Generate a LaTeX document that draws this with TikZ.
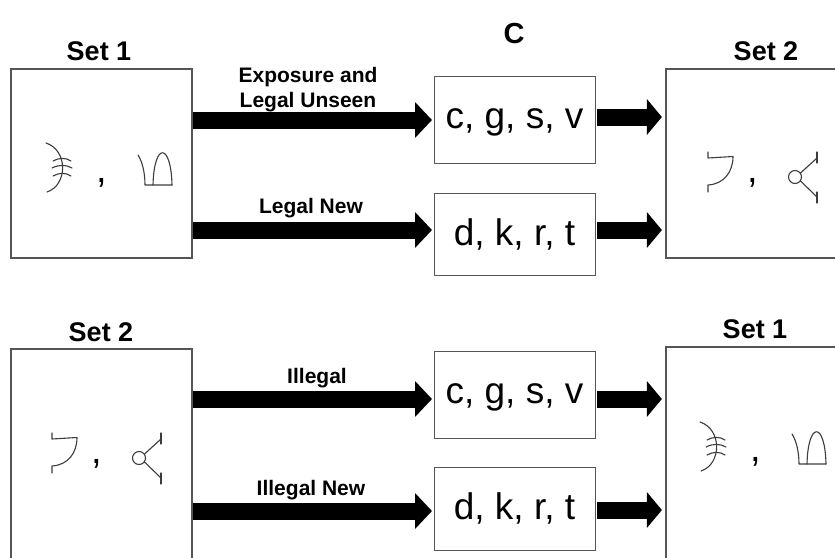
\documentclass[tikz,border=0pt]{standalone}
\usepackage{fontspec}
\setmainfont{Liberation Sans}
\usetikzlibrary{arrows.meta}
\definecolor{boxline}{HTML}{555555}
\definecolor{inkgray}{HTML}{3C3C3C}

\tikzset{
  setbox/.style={draw=boxline, line width=1.2pt, minimum width=181pt,
    minimum height=189pt, inner sep=0pt},
  lettbox/.style={draw=boxline, line width=1pt, minimum width=161pt,
    inner sep=0pt, font=\fontsize{37}{40}\selectfont},
  settitle/.style={font=\fontsize{27}{30}\bfseries\selectfont, anchor=base},
  condtitle/.style={font=\fontsize{29}{32}\bfseries\selectfont, anchor=base},
  routelabel/.style={font=\fontsize{21}{25}\bfseries\selectfont, anchor=base},
  commamark/.style={font=\fontsize{38}{38}\selectfont, anchor=base, inner sep=0pt},
  blockarrow/.style={line width=17pt, line cap=butt,
    -{Triangle[length=17pt,width=35pt]}},
  shortarrow/.style={line width=17pt, line cap=butt,
    -{Triangle[length=15pt,width=35pt]}},
  stroke/.style={draw=inkgray, line width=1.1pt, line cap=round, line join=round},
}

% hooked stem with three cross strokes, a comma, and the arch glyph
\newcommand\glyphsone[1]{%
  \draw[stroke] (46,143) .. controls (68,150) and (68,185) .. (47,192);
  \draw[stroke] (53,161) .. controls (59,157.5) and (66,157.5) .. (71,161);
  \draw[stroke] (52,168) .. controls (59,164.5) and (66,164.5) .. (72,168);
  \draw[stroke] (53,176) .. controls (59,172.5) and (66,172.5) .. (71,176);
  \node[commamark] (#1-comma) at (102,182) {,};
  \draw[stroke] (138,155) .. controls (142,161) and (145,172) .. (145,185) -- (172,185);
  \draw[stroke] (153,185) .. controls (154,142) and (171,142) .. (172,185);
}

% hook glyph, a comma, and the forked circle glyph
\newcommand\glyphstwo[1]{%
  \draw[stroke] (708,152) -- (708,158) -- (733,156.5)
    .. controls (733,172) and (724,184) .. (708,185) -- (708,192);
  \node[commamark] (#1-comma) at (753,182) {,};
  \draw[stroke] (795,177) circle [radius=6.5pt];
  \draw[stroke] (800.5,173) -- (817,158);
  \draw[stroke] (800.5,181) -- (817,197);
  \draw[stroke] (817,152) -- (817,163);
  \draw[stroke] (817,192) -- (817,203);
}

\begin{document}
\begin{tikzpicture}[x=1pt,y=-1pt]
  \clip (0,0) rectangle (835,557);
  \fill[white] (0,0) rectangle (835,557);

  % stimulus sets
  \node[setbox] (setA) at (101.5,163.5) {};
  \node[setbox, minimum width=200pt] (setB) at (766,163.5) {};
  \node[setbox, minimum height=230pt] (setC) at (101.5,464) {};
  \node[setbox, minimum width=200pt, minimum height=230pt] (setD) at (766,462) {};

  \node[settitle] (titleA) at (99,60) {Set 1};
  \node[settitle] (titleB) at (766,60) {Set 2};
  \node[settitle] (titleC) at (101,341) {Set 2};
  \node[settitle] (titleD) at (755,338) {Set 1};
  \node[condtitle] (cond) at (514,43) {C};

  \glyphsone{gA}
  \glyphstwo{gB}
  \begin{scope}[shift={(-656,281)}]
    \glyphstwo{gC}
  \end{scope}
  \begin{scope}[shift={(654,279)}]
    \glyphsone{gD}
  \end{scope}

  % consonant boxes
  \node[lettbox, minimum height=87pt, text depth=2pt] (lt1) at (514.5,119.5) {c, g, s, v};
  \node[lettbox, minimum height=82pt] (lt2) at (514.5,234) {d, k, r, t};
  \node[lettbox, minimum height=87pt, text depth=2pt] (lt3) at (514.5,394.5) {c, g, s, v};
  \node[lettbox, minimum height=83pt] (lt4) at (514.5,508.5) {d, k, r, t};

  % arrow rows
  \coordinate (rowA) at (0,120);
  \coordinate (rowB) at (0,230);
  \coordinate (rowC) at (0,399);
  \coordinate (rowD) at (0,511);
  \coordinate (outA) at (0,117);
  \coordinate (outB) at (0,230);
  \coordinate (outC) at (0,399);
  \coordinate (outD) at (0,510);

  \draw[blockarrow, shorten >=1.5pt] (setA.east |- rowA) -- (lt1.west |- rowA);
  \draw[blockarrow, shorten >=1.5pt] (setA.east |- rowB) -- (lt2.west |- rowB);
  \draw[blockarrow, shorten >=1.5pt] (setC.east |- rowC) -- (lt3.west |- rowC);
  \draw[blockarrow, shorten >=1.5pt] (setC.east |- rowD) -- (lt4.west |- rowD);

  \draw[shortarrow, shorten <=1.5pt, shorten >=3.5pt] (lt1.east |- outA) -- (setB.west |- outA);
  \draw[shortarrow, shorten <=1.5pt, shorten >=3.5pt] (lt2.east |- outB) -- (setB.west |- outB);
  \draw[shortarrow, shorten <=1.5pt, shorten >=3.5pt] (lt3.east |- outC) -- (setD.west |- outC);
  \draw[shortarrow, shorten <=1.5pt, shorten >=3.5pt] (lt4.east |- outD) -- (setD.west |- outD);

  % arrow labels
  \node[routelabel] (labA1) at (308,82) {Exposure and};
  \node[routelabel] (labA2) at (308,107) {Legal Unseen};
  \node[routelabel] (labB) at (311,213) {Legal New};
  \node[routelabel] (labC) at (317,383) {Illegal};
  \node[routelabel] (labD) at (311,495) {Illegal New};
\end{tikzpicture}
\end{document}
